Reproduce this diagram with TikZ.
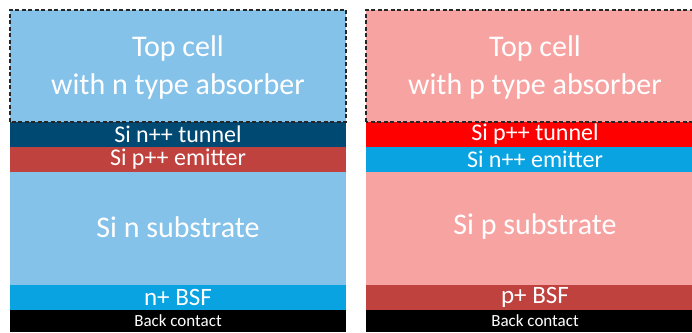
\documentclass[tikz,border=0pt]{standalone}
\usepackage{fontspec}
\setmainfont{Carlito}
\definecolor{lblue}{RGB}{133,194,234}
\definecolor{dblue}{RGB}{0,73,115}
\definecolor{mblue}{RGB}{8,163,224}
\definecolor{bred}{RGB}{192,66,62}
\definecolor{pink}{RGB}{247,163,162}
\definecolor{pure}{RGB}{255,0,0}
\begin{document}
\begin{tikzpicture}[x=1pt,y=1pt,
  big/.style={text=white,font=\fontsize{30}{38}\selectfont,align=center,inner sep=0pt},
  mid/.style={text=white,font=\fontsize{24}{26}\selectfont,inner sep=0pt},
  bsf/.style={text=white,font=\fontsize{25}{26}\selectfont,inner sep=0pt},
  small/.style={text=white,font=\fontsize{17}{18}\selectfont,inner sep=0pt},
  topcell/.style={draw=black!85,dash pattern=on 4pt off 2.5pt,line width=1.2pt}]
\useasboundingbox (0,0) rectangle (692,332);
\clip (0,0) rectangle (692,332);
\fill[white] (0,0) rectangle (692,332);
% left stack
\fill[lblue] (10,210) rectangle (346,322);
\fill[dblue] (10,185) rectangle (346,210);
\fill[bred] (10,160) rectangle (346,185);
\fill[lblue] (10,47) rectangle (346,160);
\fill[mblue] (10,22) rectangle (346,47);
\fill[black] (10,0) rectangle (346,22);
\draw[topcell] (10,210) rectangle (346,322);
\node[big] (lt) at (178,264) {Top cell\\with n type absorber};
\node[mid] (ltun) at (178,198) {Si n++ tunnel};
\node[mid] (lemi) at (178,172.5) {Si p++ emitter};
\node[big] (lsub) at (178,105) {Si n substrate};
\node[bsf] (lbsf) at (178,35) {n+ BSF};
\node[small] (lbc) at (178,11) {Back contact};
% right stack
\fill[pink] (366,210) rectangle (710,322);
\fill[pure] (366,185) rectangle (710,210);
\fill[mblue] (366,160) rectangle (710,185);
\fill[pink] (366,47) rectangle (710,160);
\fill[bred] (366,22) rectangle (710,47);
\fill[black] (366,0) rectangle (710,22);
\draw[topcell] (366,210) rectangle (710,322);
\node[big] (rt) at (535,264) {Top cell\\with p type absorber};
\node[mid] (rtun) at (535,198) {Si p++ tunnel};
\node[mid] (remi) at (535,172.5) {Si n++ emitter};
\node[big] (rsub) at (535,105) {Si p substrate};
\node[bsf] (rbsf) at (535,35) {p+ BSF};
\node[small] (rbc) at (535,11) {Back contact};
\end{tikzpicture}
\end{document}
